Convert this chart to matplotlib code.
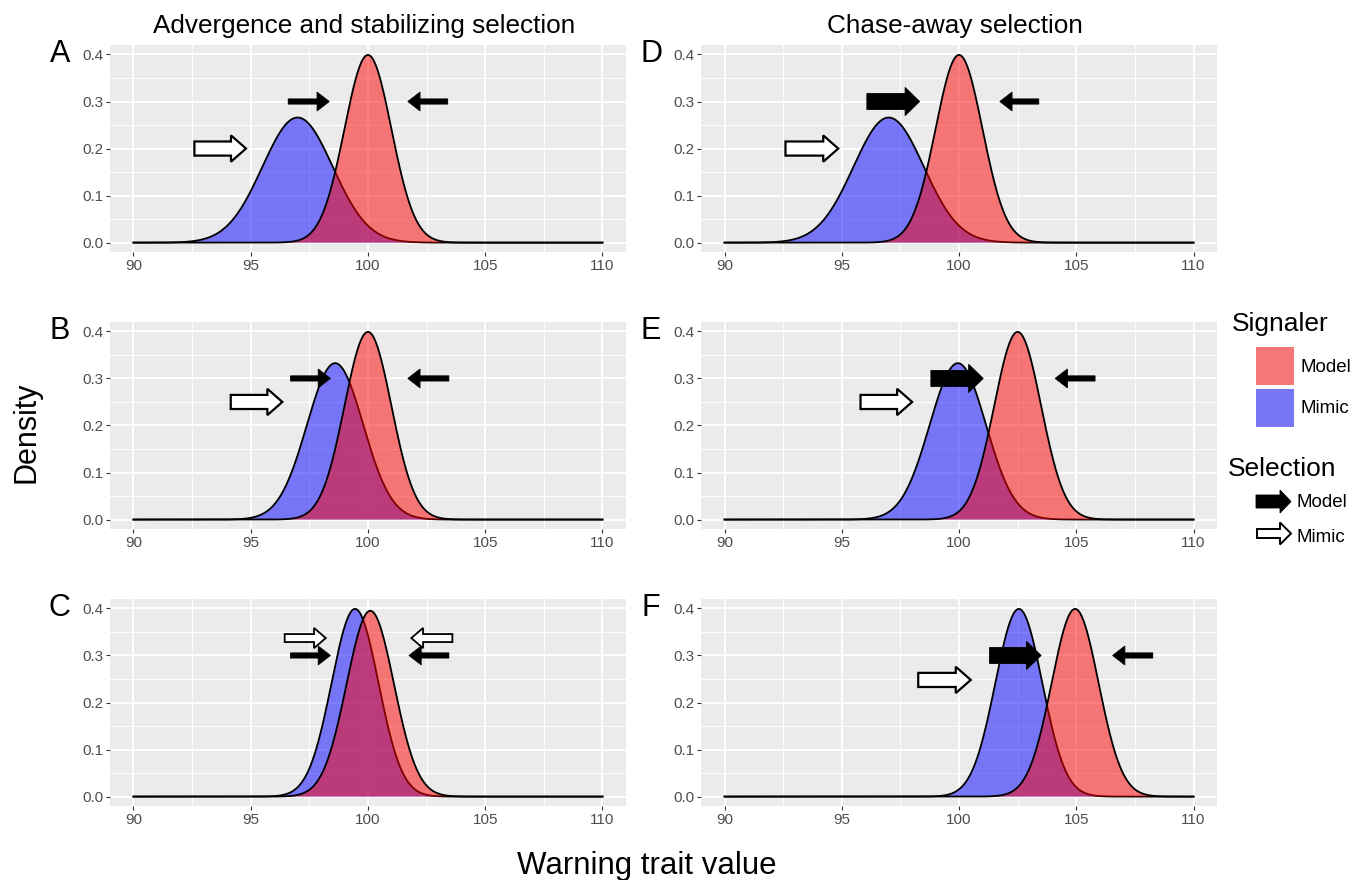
import numpy as np
import matplotlib
matplotlib.use("Agg")
import matplotlib.pyplot as plt
from matplotlib.patches import FancyArrow, Rectangle

plt.rcParams['font.family'] = ['Liberation Sans', 'DejaVu Sans']

# panel letters, left column A-C, right column D-F
panels = ["A", "B", "C", "D", "E", "F"]
column_titles = ["Advergence and stabilizing selection", "Chase-away selection"]

# trait distributions (mean, sd)
model_mean = [100.0, 100.0, 100.1, 100.0, 102.5, 104.95]
model_sd = [1.0, 1.0, 1.01, 1.0, 1.0, 1.0]
mimic_mean = [97.0, 98.6, 99.45, 97.0, 99.95, 102.55]
mimic_sd = [1.5, 1.2, 1.0, 1.5, 1.2, 1.0]

trait_lo, trait_hi = 90, 110
x_ticks = [90, 95, 100, 105, 110]
y_ticks = [0.0, 0.1, 0.2, 0.3, 0.4]

# selection arrows: (tail x, head x, y, kind)
arrows = {
    "A": [(96.6, 98.35, 0.30, "model"), (103.4, 101.7, 0.30, "model"),
          (92.6, 94.8, 0.20, "mimic")],
    "B": [(96.7, 98.4, 0.30, "model"), (103.45, 101.7, 0.30, "model"),
          (94.15, 96.35, 0.25, "mimic")],
    "C": [(96.45, 98.2, 0.337, "mimic_weak"), (103.6, 101.85, 0.337, "mimic_weak"),
          (96.7, 98.4, 0.30, "model"), (103.45, 101.75, 0.30, "model")],
    "D": [(96.07, 98.32, 0.30, "model_strong"), (103.4, 101.74, 0.30, "model"),
          (92.6, 94.85, 0.20, "mimic")],
    "E": [(98.8, 101.03, 0.30, "model_strong"), (105.8, 104.1, 0.30, "model"),
          (95.8, 98.0, 0.25, "mimic")],
    "F": [(101.3, 103.5, 0.30, "model_strong"), (108.26, 106.55, 0.30, "model"),
          (98.26, 100.5, 0.248, "mimic")],
}

arrow_style = {
    "model": dict(width=0.011, head_width=0.040, head_length=0.52, fc="black", ec="black", lw=0.6),
    "model_strong": dict(width=0.034, head_width=0.06, head_length=0.62, fc="black", ec="black", lw=0.6),
    "mimic": dict(width=0.030, head_width=0.056, head_length=0.64, fc="white", ec="black", lw=1.6),
    "mimic_weak": dict(width=0.017, head_width=0.043, head_length=0.5, fc="white", ec="black", lw=1.3),
}


def density(mu, sd, x):
    return np.exp(-0.5 * ((x - mu) / sd) ** 2) / (sd * np.sqrt(2 * np.pi))


fig = plt.figure(figsize=(13.56, 8.8), dpi=100)

col_x0 = [0.0811, 0.517]
row_y0 = [0.7136, 0.3989, 0.0841]
ax_w, ax_h = 0.3805, 0.2352

x = np.linspace(trait_lo, trait_hi, 512)

for i, p in enumerate(panels):
    col, row = divmod(i, 3)
    ax = fig.add_axes([col_x0[col], row_y0[row], ax_w, ax_h])
    ax.set_facecolor("#EBEBEB")
    ax.set_xlim(89, 111)
    ax.set_ylim(-0.02, 0.42)
    ax.set_xticks(x_ticks)
    ax.set_xticks([92.5, 97.5, 102.5, 107.5], minor=True)
    ax.set_yticks(y_ticks)
    ax.set_yticks([0.05, 0.15, 0.25, 0.35], minor=True)
    ax.set_xticklabels([str(t) for t in x_ticks])
    ax.set_yticklabels([f"{t:.1f}" for t in y_ticks])
    ax.grid(which="major", color="white", lw=1.4)
    ax.grid(which="minor", color="white", lw=0.7)
    ax.set_axisbelow(True)
    for s in ax.spines.values():
        s.set_visible(False)
    ax.tick_params(which="major", length=3, width=0.8, color="#333333",
                   labelcolor="#4D4D4D", labelsize=11, pad=2)
    ax.tick_params(which="minor", length=0)

    ymi = density(mimic_mean[i], mimic_sd[i], x)
    ymo = density(model_mean[i], model_sd[i], x)
    ax.fill_between(x, 0, ymi, facecolor=(0, 0, 1, 0.5), edgecolor="none", zorder=2)
    ax.plot(x, ymi, color="black", lw=1.3, zorder=2)
    ax.fill_between(x, 0, ymo, facecolor=(1, 0, 0, 0.5), edgecolor="none", zorder=3)
    ax.plot(x, ymo, color="black", lw=1.3, zorder=3)

    for x0, x1, y, kind in arrows[p]:
        ax.add_patch(FancyArrow(x0, y, x1 - x0, 0, length_includes_head=True,
                                zorder=5, **arrow_style[kind]))

    ax.text(-0.097, 0.4, p, transform=ax.get_yaxis_transform(), ha="center",
            va="center", fontsize=22)

# overlay in pixel coordinates for titles, axis labels and legend
ov = fig.add_axes([0, 0, 1, 1], zorder=10)
ov.set_xlim(0, 1356)
ov.set_ylim(880, 0)
ov.axis("off")
ov.patch.set_alpha(0)

ov.text(364, 33, column_titles[0], ha="center", va="baseline", fontsize=18.8)
ov.text(955, 33, column_titles[1], ha="center", va="baseline", fontsize=18.8)
ov.text(647, 874, "Warning trait value", ha="center", va="baseline", fontsize=22.5)
ov.text(35, 432, "Density", rotation=90, rotation_mode="anchor",
        ha="center", va="baseline", fontsize=22)

# Signaler legend
ov.text(1232, 331, "Signaler", ha="left", va="baseline", fontsize=19)
ov.add_patch(Rectangle((1256, 347), 38, 38, fc="#F67777", ec="none"))
ov.add_patch(Rectangle((1256, 389), 38, 38, fc="#7777F6", ec="none"))
ov.text(1301, 372, "Model", ha="left", va="baseline", fontsize=13.5)
ov.text(1301, 413, "Mimic", ha="left", va="baseline", fontsize=13.5)

# Selection legend
ov.text(1228, 476, "Selection", ha="left", va="baseline", fontsize=19)
ov.add_patch(FancyArrow(1256, 501.5, 35, 0, width=13, head_width=23, head_length=11,
                        length_includes_head=True, fc="black", ec="black", lw=0.6))
ov.add_patch(FancyArrow(1257, 533.5, 34, 0, width=9, head_width=22, head_length=11,
                        length_includes_head=True, fc="white", ec="black", lw=1.4))
ov.text(1297, 507, "Model", ha="left", va="baseline", fontsize=13.5)
ov.text(1297, 542, "Mimic", ha="left", va="baseline", fontsize=13.5)

fig.savefig("out.png", dpi=100)
